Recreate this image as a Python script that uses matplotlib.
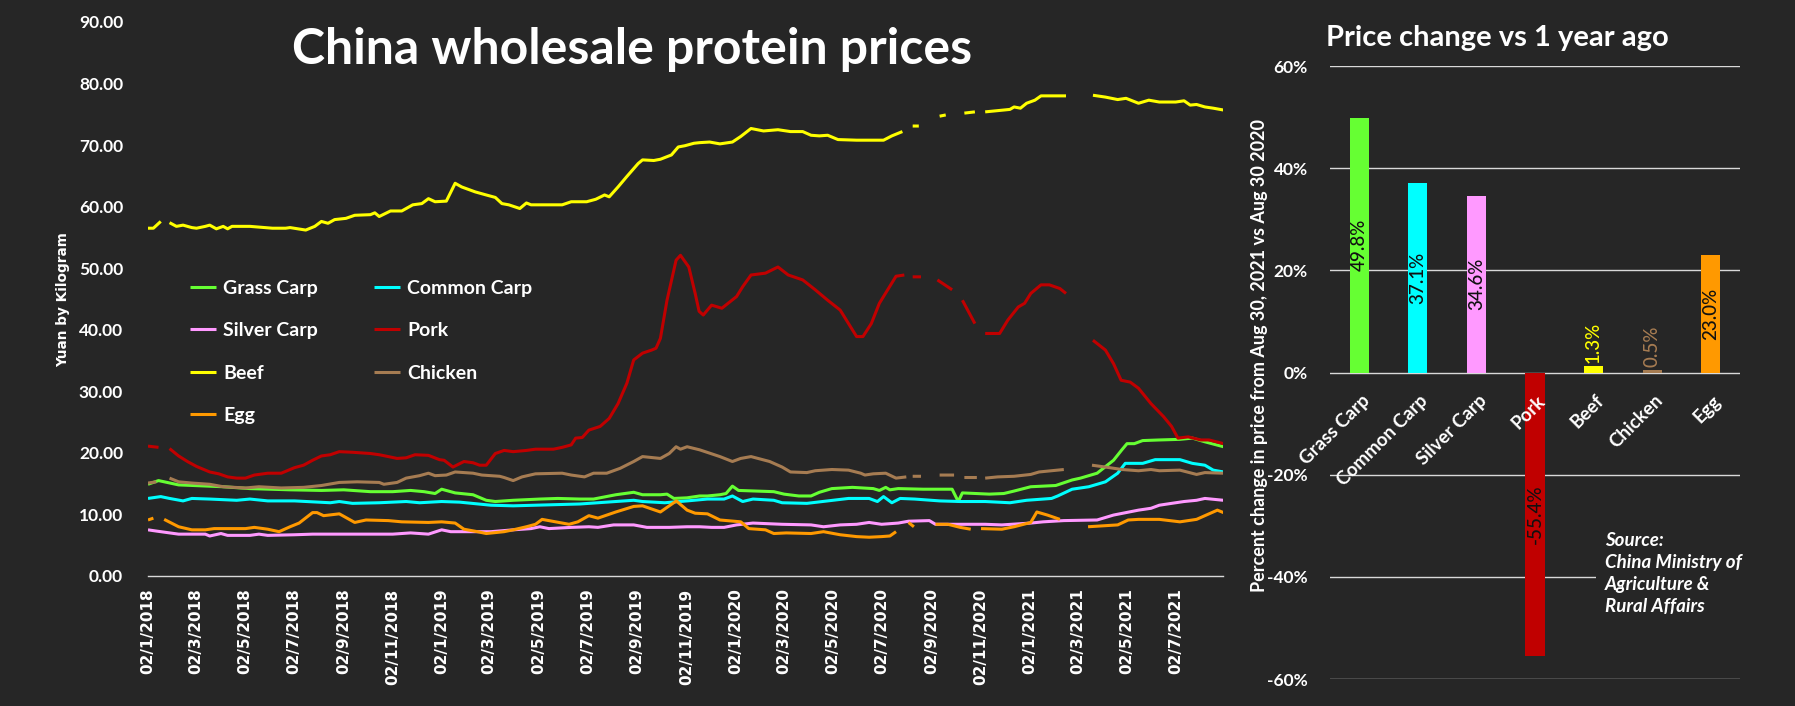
import numpy as np
import pandas as pd
import matplotlib
matplotlib.use('Agg')
import matplotlib.pyplot as plt
from matplotlib.ticker import FuncFormatter, FixedLocator

nan = np.nan
START = pd.Timestamp('2018-01-02')
END = pd.Timestamp('2021-08-30')

# --- weekly series ---
# t = months after 02/1/2018, v = yuan per kg, nan marks a gap in the data
grass_t = [0, 0.43, 1.25, 3.07, 4.16, 5.8, 7.08, 7.99, 9.08, 9.99, 10.72, 11.27, 11.72, 11.99, 12.54,
           13.27, 13.81, 14.18, 14.91, 16.0, 16.73, 17.64, 18.19, 19.1, 19.83, 20.19, 20.92, 21.19,
           21.47, 22.01, 22.52, 22.84, 23.35, 23.6, 23.86, 24.11, 25.55, 25.97, 26.57, 27.07, 27.41,
           27.92, 28.76, 29.61, 29.86, 30.12, 30.29, 30.63, 31.64, 32.83, 33.08, 33.25, 34.35, 34.94,
           35.36, 36.04, 37.06, 37.73, 38.07, 38.75, 39.42, 39.76, 39.97, 40.27, 40.61, 41.29, 42.13,
           42.64, 43.15, 43.91]
grass_v = [14.9, 15.5, 14.8, 14.5, 14.2, 14.0, 13.9, 14.0, 13.7, 13.7, 13.9, 13.7, 13.4, 14.1, 13.5,
           13.2, 12.3, 12.1, 12.3, 12.5, 12.6, 12.5, 12.5, 13.2, 13.6, 13.2, 13.2, 13.3,
           12.6, 12.7, 13.0, 13.0, 13.2, 13.4, 14.6, 13.9, 13.7, 13.3, 13.0, 13.0, 13.6,
           14.2, 14.4, 14.2, 13.9, 14.4, 14.0, 14.2, 14.1, 14.1, 12.1, 13.5, 13.3, 13.4,
           13.8, 14.5, 14.7, 15.6, 15.9, 16.7, 18.8, 20.5, 21.5, 21.5, 22.0, 22.1, 22.2,
           22.4, 21.8, 21.0]

common_t = [0, 0.52, 0.88, 1.43, 1.79, 2.52, 3.62, 4.16, 4.89, 5.98, 7.44, 7.81, 8.35, 9.44, 10.54,
            11.09, 11.99, 12.72, 14.0, 14.91, 15.82, 17.64, 18.73, 19.83, 20.19, 21.1, 22.01, 22.84,
            23.52, 23.86, 24.28, 24.7, 25.55, 25.89, 26.9, 27.75, 28.6, 29.44, 29.78, 30.03, 30.37,
            30.71, 31.3, 32.32, 33.16, 34.18, 35.19, 35.87, 36.89, 37.14, 37.73, 38.41, 39.09, 39.59,
            39.9, 40.61, 41.12, 42.13, 42.64, 43.15, 43.49, 43.91]
common_v = [12.6, 12.9, 12.6, 12.2, 12.6, 12.5, 12.3, 12.5, 12.2, 12.2, 11.9, 12.1, 11.8, 11.9, 12.1,
            11.9, 12.1, 12.0, 11.5, 11.4, 11.5, 11.7, 12.0, 12.3, 12.1, 11.9, 12.2, 12.5,
            12.5, 13.0, 12.1, 12.5, 12.3, 11.9, 11.8, 12.2, 12.6, 12.6, 12.1, 12.9, 11.9,
            12.6, 12.5, 12.2, 12.1, 12.1, 11.9, 12.3, 12.6, 13.0, 14.1, 14.5, 15.3, 16.7,
            18.3, 18.3, 18.9, 18.9, 18.3, 18.0, 17.2, 16.9]

silver_t = [0, 0.34, 1.25, 2.34, 2.52, 2.98, 3.25, 4.16, 4.53, 4.89, 5.98, 6.72, 8.17, 9.99, 10.72,
            11.45, 11.99, 12.36, 14.0, 14.91, 15.64, 16.0, 16.37, 17.28, 18.0, 18.37, 19.01, 19.83,
            20.37, 21.28, 22.01, 22.52, 23.01, 23.52, 24.03, 24.7, 25.89, 27.07, 27.58, 28.26, 28.93,
            29.44, 29.95, 30.63, 31.05, 31.9, 32.15, 33.16, 34.18, 34.86, 36.04, 36.55, 37.39, 38.75,
            39.42, 39.93, 40.44, 40.95, 41.29, 41.79, 42.3, 42.81, 43.15, 43.91]
silver_v = [7.5, 7.3, 6.8, 6.8, 6.5, 6.9, 6.6, 6.6, 6.8, 6.6, 6.7, 6.8, 6.8, 6.8, 7.0,
            6.8, 7.5, 7.2, 7.2, 7.5, 7.7, 8.0, 7.7, 7.9, 8.0, 7.9, 8.3, 8.3,
            7.9, 7.9, 8.0, 8.0, 7.9, 7.9, 8.3, 8.6, 8.4, 8.3, 8.0, 8.3, 8.4,
            8.7, 8.4, 8.6, 8.9, 9.0, 8.4, 8.4, 8.4, 8.3, 8.6, 8.8, 9.0, 9.1,
            9.9, 10.3, 10.7, 11.0, 11.5, 11.8, 12.1, 12.3, 12.6, 12.3]

pork_t = [0, 0.43, 0.6, 0.88, 1.25, 1.61, 1.98, 2.52, 2.89, 3.25, 3.62, 3.98, 4.34, 4.89, 5.44,
          5.98, 6.35, 6.72, 7.08, 7.44, 7.81, 8.35, 9.08, 9.44, 9.81, 10.17, 10.54, 10.9, 11.45,
          11.9, 12.09, 12.45, 12.9, 13.27, 13.54, 13.81, 14.18, 14.54, 14.91, 15.45, 15.82, 16.55,
          16.91, 17.28, 17.46, 17.73, 18.0, 18.46, 18.83, 19.19, 19.55, 19.83, 20.19, 20.56, 20.74,
          20.92, 21.19, 21.56, 21.74, 22.08, 22.34, 22.5, 22.67, 23.01, 23.43, 24.03, 24.28, 24.62,
          25.21, 25.72, 26.14, 26.73, 27.24, 27.75, 28.26, 28.68, 28.93, 29.19, 29.53, 29.86, 30.2,
          30.54, 30.88, 31.05, 31.22, 31.56, 31.9, 32.23, 32.83, 33.0, 33.25, 33.76, 33.95, 34.18,
          34.77, 35.11, 35.53, 35.79, 36.04, 36.46, 36.8, 37.23, 37.48, 38.0, 38.58, 39.09, 39.42,
          39.73, 40.1, 40.44, 40.95, 41.46, 41.79, 42.05, 42.47, 42.98, 43.32, 43.91]
pork_v = [21.1, 20.9, nan, 20.7, 19.5, 18.6, 17.8, 16.9, 16.6, 16.1, 15.9, 15.9, 16.4, 16.7, 16.7,
          17.6, 18.0, 18.8, 19.5, 19.7, 20.2, 20.1, 19.9, 19.7, 19.4, 19.1, 19.2, 19.7, 19.6,
          18.9, 18.8, 17.7, 18.6, 18.4, 18.0, 18.0, 19.9, 20.4, 20.2, 20.4, 20.6, 20.6,
          20.9, 21.3, 22.4, 22.5, 23.7, 24.3, 25.6, 28.0, 31.3, 35.1, 36.2, 36.7, 37.0,
          38.6, 44.8, 51.3, 52.1, 50.2, 45.9, 43.0, 42.4, 44.0, 43.5, 45.4, 47.0, 48.9,
          49.2, 50.2, 48.9, 48.1, 46.5, 44.8, 43.2, 40.5, 38.9, 38.9, 41.0, 44.3, 46.5,
          48.7, 48.9, nan, 48.6, 48.6, nan, 48.1, 46.5, nan, 44.8, 41.0, nan, 39.4,
          39.4, 41.6, 43.7, 44.3, 45.9, 47.3, 47.3, 46.7, 45.9, nan, 38.3, 36.7, 34.5,
          31.8, 31.5, 30.5, 28.0, 25.9, 24.3, 22.4, 22.6, 22.1, 22.1, 21.5]

beef_t = [0, 0.22, 0.52, 0.7, 0.88, 1.16, 1.43, 1.79, 1.98, 2.34, 2.52, 2.79, 3.07, 3.25, 3.43,
          4.16, 5.08, 5.62, 5.8, 6.44, 6.81, 7.08, 7.35, 7.62, 8.08, 8.44, 9.08, 9.26, 9.44, 9.9,
          10.36, 10.81, 11.18, 11.45, 11.72, 12.18, 12.54, 12.81, 13.36, 13.81, 14.18, 14.45, 14.73,
          15.18, 15.45, 15.64, 16.91, 17.28, 17.91, 18.28, 18.64, 18.83, 19.19, 19.55, 20.01, 20.19,
          20.65, 20.92, 21.37, 21.65, 21.92, 22.29, 22.52, 22.93, 23.35, 23.86, 24.2, 24.62, 25.13,
          25.72, 26.23, 26.73, 27.07, 27.41, 27.75, 28.17, 28.93, 29.61, 30.03, 30.37, 30.8, 31.0,
          31.22, 31.47, 31.9, 32.32, 32.57, 32.95, 33.33, 33.76, 33.95, 34.18, 34.69, 35.19, 35.36,
          35.62, 35.87, 36.21, 36.46, 37.48, 38.0, 38.58, 39.09, 39.59, 39.93, 40.44, 40.86, 41.29,
          41.96, 42.3, 42.55, 42.81, 43.15, 43.49, 43.91]
beef_v = [56.5, 56.5, 57.6, nan, 57.4, 56.8, 57.0, 56.6, 56.5, 56.8, 57.0, 56.4, 56.8, 56.4, 56.8,
          56.8, 56.5, 56.5, 56.6, 56.2, 56.8, 57.6, 57.3, 57.9, 58.1, 58.6, 58.7, 59.0, 58.4, 59.3,
          59.3, 60.3, 60.5, 61.3, 60.8, 60.9, 63.8, 63.2, 62.4, 61.9, 61.5, 60.5, 60.3,
          59.7, 60.6, 60.3, 60.3, 60.8, 60.8, 61.2, 61.9, 61.6, 63.2, 64.9, 67.0, 67.6,
          67.5, 67.7, 68.4, 69.7, 69.9, 70.3, 70.4, 70.5, 70.2, 70.5, 71.4, 72.7, 72.3,
          72.5, 72.2, 72.2, 71.6, 71.5, 71.6, 70.9, 70.8, 70.8, 70.8, 71.5, 72.2, nan,
          73.1, 73.1, nan, 74.7, 74.9, nan, 75.2, 75.4, nan, 75.4, 75.6, 75.8, 76.2,
          76.0, 76.8, 77.3, 78.0, 78.0, nan, 78.1, 77.8, 77.4, 77.6, 76.8, 77.3, 77.0,
          77.0, 77.2, 76.5, 76.6, 76.2, 76.0, 75.7]

chicken_t = [0, 0.34, 0.6, 0.88, 1.25, 1.79, 2.52, 3.07, 3.98, 4.53, 5.44, 6.35, 7.08, 7.81, 8.54,
             9.44, 9.63, 10.17, 10.54, 11.09, 11.45, 11.72, 12.18, 12.54, 13.27, 13.63, 14.36, 14.54,
             14.91, 15.27, 15.82, 16.91, 17.28, 17.82, 18.19, 18.73, 19.28, 19.83, 20.19, 20.92, 21.28,
             21.56, 21.74, 22.01, 22.52, 23.35, 23.86, 24.2, 24.62, 25.38, 25.89, 26.23, 26.9, 27.24,
             27.92, 28.6, 29.1, 29.27, 29.61, 30.12, 30.54, 30.96, 31.1, 31.22, 31.56, 31.9, 32.32,
             32.91, 33.1, 33.33, 33.84, 34.0, 34.18, 34.69, 35.36, 36.04, 36.38, 37.39, 38.0, 38.54,
             39.09, 39.76, 40.44, 40.95, 41.29, 42.13, 42.81, 43.15, 43.91]
chicken_v = [15.1, 15.3, nan, 15.9, 15.3, 15.1, 14.9, 14.5, 14.3, 14.5, 14.3, 14.4, 14.7, 15.2, 15.3,
             15.2, 14.9, 15.2, 15.9, 16.3, 16.7, 16.3, 16.4, 16.9, 16.7, 16.4, 16.2, 16.0,
             15.5, 16.1, 16.6, 16.7, 16.4, 16.1, 16.7, 16.7, 17.5, 18.6, 19.4, 19.1, 19.9,
             21.0, 20.6, 21.0, 20.5, 19.4, 18.6, 19.1, 19.4, 18.6, 17.7, 16.9, 16.8, 17.1,
             17.3, 17.2, 16.7, 16.4, 16.6, 16.7, 15.9, 16.1, nan, 16.2, 16.2, nan, 16.4,
             16.4, nan, 16.0, 16.0, nan, 15.9, 16.1, 16.2, 16.5, 16.9, 17.3, nan, 18.0,
             17.7, 17.3, 17.1, 17.3, 17.1, 17.2, 16.5, 16.8, 16.7]

egg_t = [0, 0.22, 0.45, 0.66, 1.25, 1.79, 2.34, 2.7, 3.98, 4.34, 4.89, 5.35, 5.8, 6.17, 6.72,
         6.9, 7.17, 7.81, 8.44, 8.9, 9.81, 10.36, 11.45, 11.99, 12.54, 12.9, 13.45, 13.81, 14.54,
         14.91, 15.45, 15.82, 16.09, 16.64, 17.19, 17.55, 18.0, 18.37, 19.1, 19.83, 20.19, 20.92,
         21.57, 22.01, 22.34, 22.84, 23.35, 24.2, 24.53, 25.21, 25.55, 26.06, 27.07, 27.58, 28.26,
         28.93, 29.44, 29.95, 30.29, 30.54, 30.8, 31.05, 31.27, 31.7, 32.15, 32.66, 33.16, 33.59,
         33.8, 34.01, 34.86, 35.36, 36.04, 36.29, 36.72, 37.23, 37.8, 38.38, 39.59, 40.02, 40.44,
         41.29, 42.13, 42.81, 43.49, 43.66, 43.91]
egg_v = [9.1, 9.4, nan, 9.2, 8.0, 7.5, 7.5, 7.7, 7.7, 7.9, 7.6, 7.2, 8.0, 8.6, 10.3,
         10.3, 9.8, 10.1, 8.7, 9.1, 9.0, 8.8, 8.7, 8.8, 8.6, 7.6, 7.2, 6.9, 7.2,
         7.5, 8.0, 8.4, 9.2, 8.8, 8.4, 8.8, 9.8, 9.4, 10.4, 11.3, 11.4, 10.4,
         12.2, 10.7, 10.2, 10.1, 9.1, 8.8, 7.7, 7.5, 6.9, 7.0, 6.9, 7.2, 6.7,
         6.4, 6.3, 6.4, 6.5, 7.2, nan, 8.7, 8.0, nan, 8.4, 8.4, 7.9, 7.6,
         nan, 7.7, 7.6, 8.0, 8.7, 10.4, 9.9, 9.2, nan, 8.0, 8.3, 9.1, 9.2,
         9.2, 8.8, 9.2, 10.4, 10.7, 10.3]

# --- one-year change, Aug 30 2021 vs Aug 30 2020 ---
categories = ['Grass Carp', 'Common Carp', 'Silver Carp', 'Pork', 'Beef', 'Chicken', 'Egg']
pct_change = [0.498, 0.371, 0.346, -0.554, 0.013, 0.005, 0.230]

BG = '#262626'
GRID = '#d9d9d9'
FONT = 'Lato'
colors = {'Grass Carp': '#66FF33', 'Common Carp': '#00FFFF', 'Silver Carp': '#FF99FF',
          'Pork': '#C00000', 'Beef': '#FFFF00', 'Chicken': '#A67C52', 'Egg': '#FF9900'}
series = [('Grass Carp', grass_t, grass_v), ('Common Carp', common_t, common_v),
          ('Silver Carp', silver_t, silver_v), ('Pork', pork_t, pork_v),
          ('Beef', beef_t, beef_v), ('Chicken', chicken_t, chicken_v), ('Egg', egg_t, egg_v)]


def to_dates(t):
    return START + pd.to_timedelta(np.array(t) * 30.44, unit='D')


W, H = 1795, 706
fig = plt.figure(figsize=(W / 100, H / 100), dpi=100)
fig.patch.set_facecolor(BG)

# ---------------- left: price lines ----------------
ax = fig.add_axes([148 / W, 1 - 576 / H, (1223 - 148) / W, (576 - 22) / H])
ax.set_facecolor(BG)
lines = {}
for name, t, v in series:
    lines[name], = ax.plot(to_dates(t), v, color=colors[name], lw=2.2, solid_capstyle='butt')

ax.set_xlim(START, END)
ax.set_ylim(0, 90)
ax.set_yticks(np.arange(0, 91, 10))
ax.yaxis.set_major_formatter(FuncFormatter(lambda y, p: f'{y:.2f}'))
tick_dates = pd.date_range('2018-01-01', '2021-07-01', freq='2MS') + pd.Timedelta(days=1)
ax.xaxis.set_major_locator(FixedLocator(matplotlib.dates.date2num(tick_dates)))
ax.set_xticklabels([f'{d.day:02d}/{d.month}/{d.year}' for d in tick_dates],
                   rotation=90, fontsize=11, fontweight='bold', color='white', family='DejaVu Sans')
for lab in ax.get_yticklabels():
    lab.set_fontsize(12.5)
    lab.set_fontweight('bold')
    lab.set_color('white')
    lab.set_family(FONT)
ax.tick_params(axis='y', length=0, pad=18)
ax.tick_params(axis='x', length=0, pad=9)
for s in ['top', 'right', 'left']:
    ax.spines[s].set_visible(False)
ax.spines['bottom'].set_color(GRID)
ax.spines['bottom'].set_linewidth(1.0)

order = ['Grass Carp', 'Silver Carp', 'Beef', 'Egg', 'Common Carp', 'Pork', 'Chicken']
leg = fig.legend([lines[n] for n in order], order, loc='upper left',
                 bbox_to_anchor=(190 / W, 1 - 280 / H), ncol=2, frameon=False,
                 handlelength=1.35, handletextpad=0.35, columnspacing=2.9, labelspacing=1.3,
                 borderpad=0, borderaxespad=0,
                 prop={'family': FONT, 'weight': 'bold', 'size': 14})
for txt in leg.get_texts():
    txt.set_color('white')

fig.text(632 / W, 1 - 50 / H, 'China wholesale protein prices', ha='center', va='center',
         fontsize=36, fontweight='bold', color='white', family=FONT)
fig.text(63 / W, 1 - 300 / H, 'Yuan by Kilogram', rotation=90, ha='center', va='center',
         fontsize=9.8, fontweight='bold', color='white', family='DejaVu Sans')

# ---------------- right: one-year change bars ----------------
bx = fig.add_axes([1330 / W, 1 - 679 / H, 410 / W, (679 - 66) / H])
bx.set_facecolor(BG)
xs = np.arange(len(categories))
bx.bar(xs, pct_change, width=0.325, color=[colors[c] for c in categories], zorder=3)
bx.set_xlim(-0.5, len(categories) - 0.5)
bx.set_ylim(-0.6, 0.6)
bx.set_yticks(np.arange(-0.6, 0.61, 0.2))
bx.yaxis.set_major_formatter(FuncFormatter(lambda y, p: f'{round(y * 100):.0f}%'))
bx.set_xticks([])
bx.grid(axis='y', color=GRID, lw=1.0, zorder=0)
bx.set_axisbelow(True)
for s in bx.spines.values():
    s.set_visible(False)
bx.tick_params(axis='y', length=0, pad=16)
for lab in bx.get_yticklabels():
    lab.set_fontsize(12.5)
    lab.set_fontweight('bold')
    lab.set_color('white')
    lab.set_family(FONT)

for i, (c, v) in enumerate(zip(categories, pct_change)):
    bx.annotate(c, xy=(i, 0), xytext=(1, -14), textcoords='offset points', rotation=45,
                rotation_mode='anchor', ha='right', va='top', color='white',
                fontsize=13.5, fontweight='bold', family=FONT, zorder=5)
    label = f'{v * 100:.1f}%'
    if abs(v) > 0.05:
        bx.text(i, v / 2, label, rotation=90, ha='center', va='center', color='#111111',
                fontsize=13.5, fontweight='medium', family=FONT, zorder=4)
    else:
        bx.annotate(label, xy=(i, v), xytext=(0, 2), textcoords='offset points', rotation=90,
                    ha='center', va='bottom', color=colors[c], fontsize=13.5,
                    fontweight='medium', family=FONT, zorder=4)

fig.text(1497 / W, 1 - 38 / H, 'Price change vs 1 year ago', ha='center', va='center',
         fontsize=21, fontweight='bold', color='white', family=FONT)
fig.text(1259 / W, 1 - 355 / H, 'Percent change in price from Aug 30, 2021 vs Aug 30 2020',
         rotation=90, ha='center', va='center', fontsize=13, fontweight='bold', color='white',
         family=FONT)
fig.text(1605 / W, 1 - 532 / H, 'Source:\nChina Ministry of\nAgriculture &\nRural Affairs',
         ha='left', va='top', fontsize=13.5, fontweight='bold', style='italic', color='white',
         family=FONT, linespacing=1.36,
         bbox=dict(boxstyle='square,pad=0.5', facecolor=BG, edgecolor='none'))

fig.savefig('out.png', dpi=100, facecolor=BG)
